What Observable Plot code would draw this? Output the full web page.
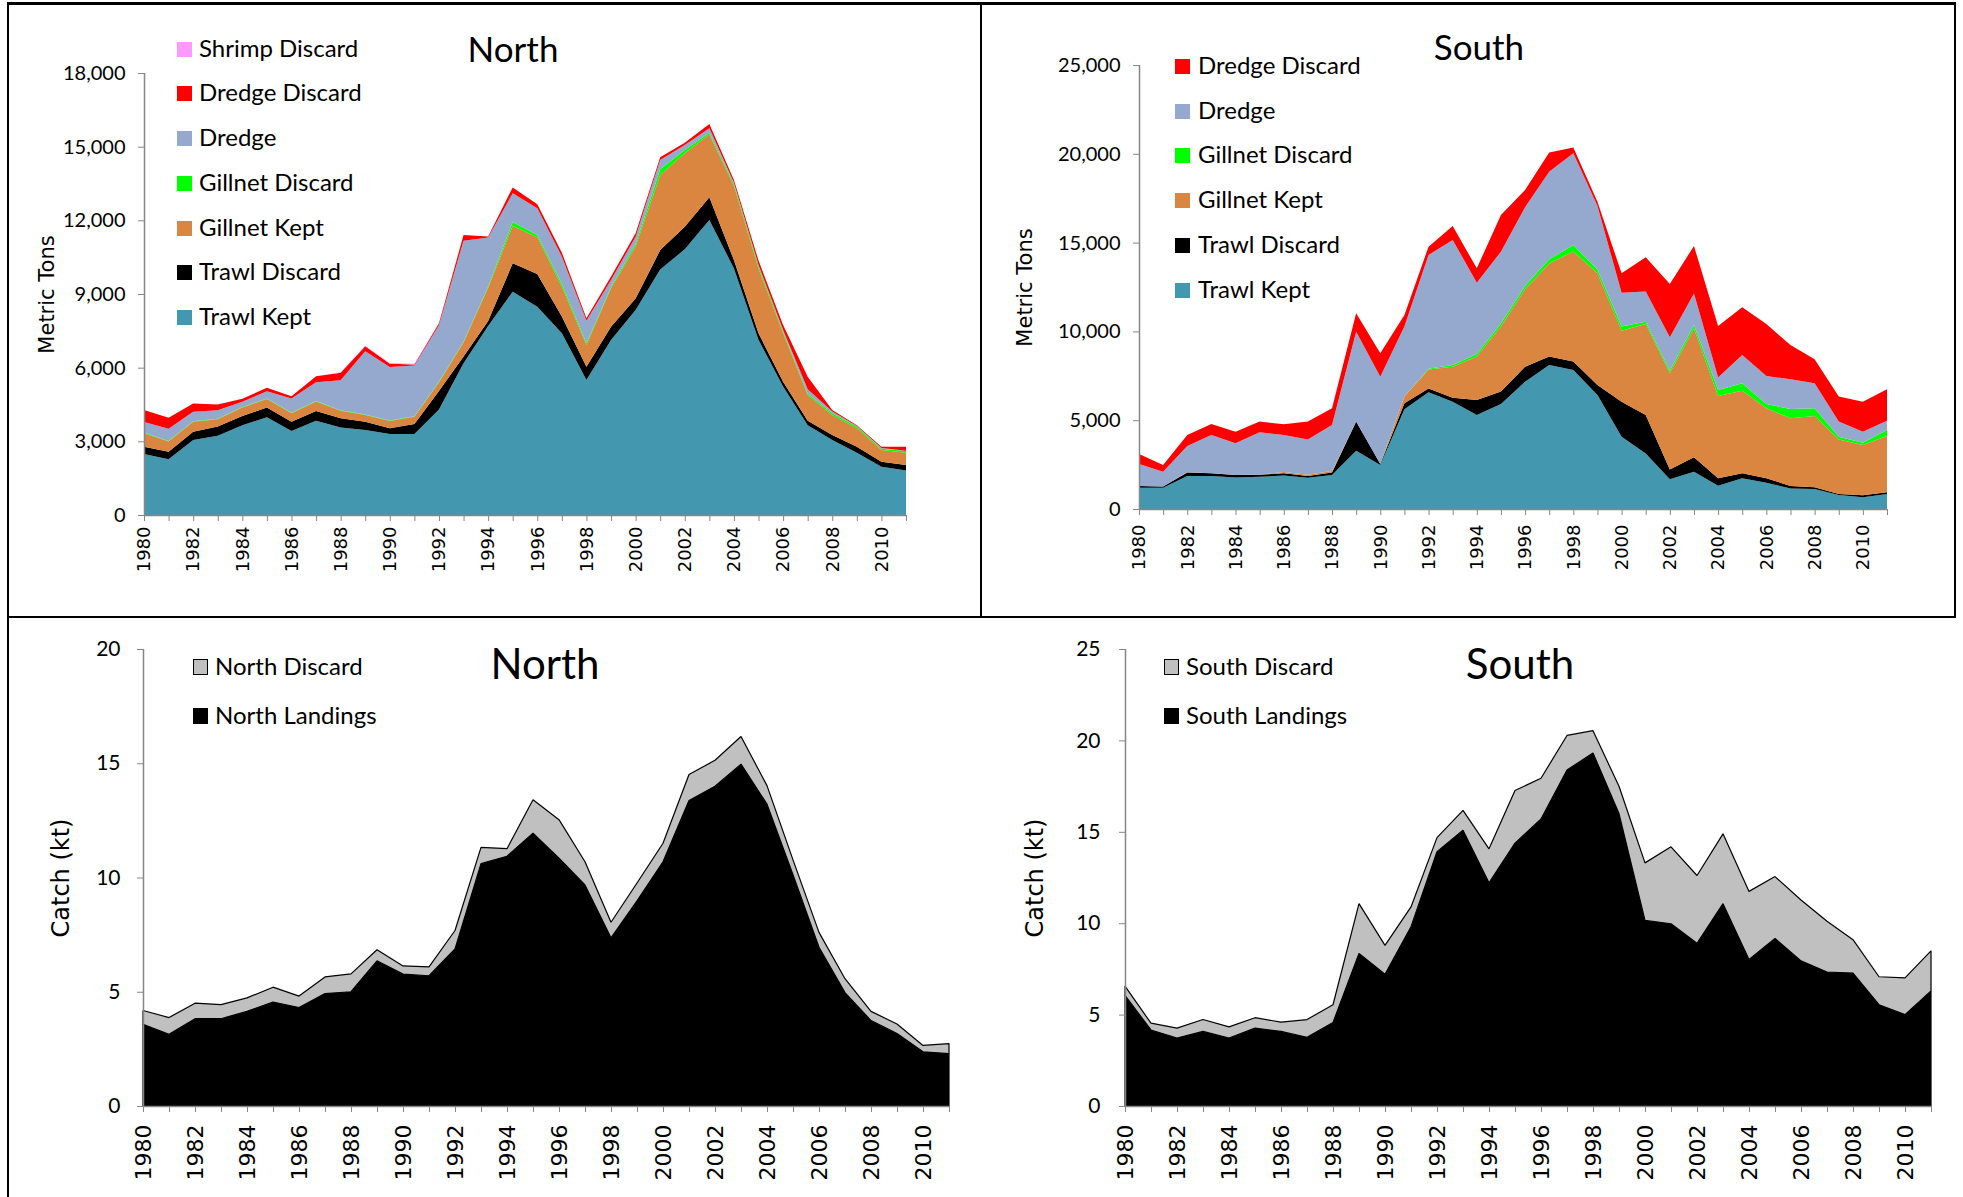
<!DOCTYPE html>
<html><head><meta charset="utf-8">
<script src="https://cdn.jsdelivr.net/npm/d3@7"></script>
<script src="https://cdn.jsdelivr.net/npm/@observablehq/plot@0.6"></script>
<style>
body{margin:0;background:#fff;}
#root{position:relative;width:1963px;height:1197px;overflow:hidden;background:#fff;font-family:Lato,sans-serif;}
.panel{position:absolute;}
.line{position:absolute;background:#000;z-index:5;}
.title{position:absolute;font-family:Lato,sans-serif;color:#000;transform:translateX(-50%);white-space:nowrap;line-height:1;}
.leg{position:absolute;font-family:Lato,sans-serif;white-space:nowrap;line-height:1;color:#000;}
.sw{position:absolute;box-sizing:border-box;}
</style></head><body><div id="root"></div>
<script>
// ---------- data ----------
const years = d3.range(1980, 2012);

// North, metric tons (top-left)
const northTrawlKept      = [2480,2270,3050,3230,3660,3980,3420,3840,3560,3460,3300,3300,4300,6180,7700,9090,8480,7400,5500,7130,8350,10000,10820,12010,10040,7130,5230,3660,3050,2540,1970,1810];
const northTrawlDiscard   = [300,310,340,370,370,400,380,400,380,340,230,410,750,270,200,1160,1330,680,540,540,470,790,920,930,340,270,200,180,210,240,200,230];
const northGillnetKept    = [550,410,410,300,350,340,340,380,310,270,300,290,350,570,1350,1520,1500,1220,880,1560,2110,3060,2990,2560,3020,2640,1970,1050,810,750,480,500];
const northGillnetDiscard = [30,20,20,20,20,20,20,20,20,20,20,20,30,40,60,160,90,110,70,50,110,230,130,70,80,100,70,60,70,70,50,70];
const northDredge         = [430,500,380,350,210,300,580,770,1220,2580,2180,2070,2300,4110,1990,1170,1090,1110,920,290,290,380,210,180,50,40,60,170,70,20,30,10];
const northDredgeDiscard  = [490,450,340,230,120,140,100,240,300,200,130,40,80,230,40,240,170,160,100,140,140,110,90,170,110,180,210,510,70,40,50,160];
const northShrimpDiscard  = [0,0,0,0,0,0,0,0,10,20,30,30,20,0,0,0,0,0,0,0,0,0,0,0,0,0,0,0,0,0,0,0];

// South, metric tons (top-right)
const southTrawlKept      = [1200,1200,1860,1860,1780,1820,1880,1760,1910,3280,2480,5610,6570,6040,5290,5910,7170,8110,7830,6420,4070,3130,1670,2100,1310,1730,1480,1160,1130,790,660,840];
const southTrawlDiscard   = [100,60,190,150,130,110,130,100,140,1640,50,340,220,230,850,700,840,470,470,560,1970,2160,560,810,420,280,250,140,90,50,110,100];
const southGillnetKept    = [0,0,20,0,0,0,70,70,90,0,0,380,1070,1740,2440,3660,4360,5250,6190,6290,4000,5130,5410,7260,4630,4650,3940,3810,4020,3080,2830,3170];
const southGillnetDiscard = [0,0,0,0,0,0,0,0,0,0,0,0,40,100,150,180,190,230,370,220,230,130,150,190,340,420,240,520,430,150,130,340];
const southDredge         = [1230,840,1480,2160,1790,2390,2090,1990,2590,5060,4920,3940,6400,7040,4010,4040,4430,4930,5170,3570,1910,1690,1880,1780,710,1590,1580,1670,1410,850,620,520];
const southDredgeDiscard  = [570,380,620,620,650,600,600,1000,940,1040,1320,650,470,780,810,2060,970,1090,330,240,1090,1930,3000,2670,2890,2690,2930,1930,1350,1410,1690,1770];

// Catch in kt (bottom panels)
const northLandings = [3.57,3.14,3.82,3.82,4.14,4.55,4.31,4.92,5.00,6.35,5.77,5.70,6.87,10.61,10.93,11.94,10.85,9.67,7.36,8.98,10.69,13.37,13.99,14.96,13.21,10.12,6.95,4.96,3.74,3.17,2.37,2.29];
const northDiscard  = [0.61,0.73,0.68,0.62,0.59,0.65,0.50,0.73,0.78,0.49,0.36,0.39,0.81,0.71,0.33,1.46,1.68,1.02,0.68,0.78,0.81,1.14,1.14,1.21,0.81,0.65,0.65,0.61,0.40,0.42,0.28,0.44];
const southLandings = [6.05,4.16,3.72,4.08,3.72,4.26,4.08,3.76,4.57,8.35,7.21,9.81,13.91,15.09,12.21,14.38,15.70,18.38,19.31,16.00,10.15,9.97,8.90,11.07,8.02,9.16,7.94,7.33,7.27,5.54,5.00,6.30];
const southDiscard  = [0.51,0.37,0.54,0.65,0.61,0.57,0.51,0.97,0.97,2.72,1.58,1.08,0.77,1.08,1.86,2.88,2.23,1.89,1.22,1.49,3.15,4.21,3.71,3.82,3.72,3.39,3.33,2.78,1.83,1.53,2.01,2.19];

// series names (bottom of stack first) and colours
const northNames = ["Trawl Kept","Trawl Discard","Gillnet Kept","Gillnet Discard","Dredge","Dredge Discard","Shrimp Discard"];
const northColors = ["#4398b0","#000000","#da8540","#00ff00","#95a9cf","#ff0000","#ff99ff"];
const southNames = ["Trawl Kept","Trawl Discard","Gillnet Kept","Gillnet Discard","Dredge","Dredge Discard"];
const southColors = ["#4398b0","#000000","#da8540","#00ff00","#95a9cf","#ff0000"];
const catchColors = ["#000000","#c0c0c0"];

// ---------- helpers ----------
const root = document.getElementById("root");
function longData(names, arrays){
  const out = [];
  names.forEach((n,k)=>arrays[k].forEach((v,i)=>out.push({year:years[i], series:n, value:v})));
  return out;
}
function panel(o){
  const data = longData(o.names, o.arrays);
  const chart = Plot.plot({
    width:o.width, height:o.height,
    marginLeft:o.mL, marginRight:o.mR, marginTop:o.mT, marginBottom:o.mB,
    style:{background:"transparent", color:"#000", overflow:"visible"},
    x:{domain:[1980,2011]},
    y:{domain:[0,o.yMax]},
    color:{domain:o.names, range:o.colors},
    marks:[
      Plot.areaY(data, {x:"year", y:"value", fill:"series", order:o.names,
        stroke:o.stroke || "none", strokeWidth:1.2, strokeLinejoin:"miter", curve:"linear"}),
      Plot.ruleX([1980], {stroke:"#868686", strokeWidth:1.5}),
      Plot.ruleY([0], {stroke:"#868686", strokeWidth:1.5}),
      Plot.axisX({ticks:years, tickFormat:d=> d%2===0 ? String(d) : "", tickRotate:-90,
        tickSize:6, tickPadding:o.xPad, stroke:"#868686", fontSize:o.xFont,
        fontFamily:"DejaVu Sans", label:null}),
      Plot.axisY({ticks:d3.range(0,o.yMax+1,o.yStep), tickFormat:o.yFmt, tickSize:6,
        tickPadding:o.yPad, stroke:"#868686", fontSize:o.yFont, fontFamily:"Lato", label:null}),
      Plot.axisY({ticks:[], label:o.yLabel, labelAnchor:"center", labelArrow:false,
        labelOffset:o.labelOffset, fontSize:o.labelFont, fontFamily:"DejaVu Sans"})
    ]
  });
  const wrap = document.createElement("div");
  wrap.className = "panel";
  wrap.style.left = o.left+"px"; wrap.style.top = o.top+"px";
  wrap.appendChild(chart);
  root.appendChild(wrap);
}
function title(text, cx, baseline, size){
  const d = document.createElement("div");
  d.className = "title"; d.textContent = text;
  d.style.fontSize = size+"px";
  d.style.left = cx+"px";
  d.style.top = (baseline - size*0.887)+"px";
  root.appendChild(d);
}
function legend(items, swX, txtX, centers, size, swW, swH, bordered){
  items.forEach((it,i)=>{
    const s = document.createElement("div");
    s.className = "sw";
    s.style.left = swX+"px"; s.style.top = (centers[i]-swH/2)+"px";
    s.style.width = swW+"px"; s.style.height = swH+"px";
    s.style.background = it.color;
    if (bordered) s.style.border = "1px solid #000";
    root.appendChild(s);
    const t = document.createElement("div");
    t.className = "leg"; t.textContent = it.name;
    t.style.fontSize = size+"px";
    t.style.left = txtX+"px"; t.style.top = (centers[i] - size*0.53)+"px";
    root.appendChild(t);
  });
}
function line(l,t,w,h){
  const d = document.createElement("div");
  d.className = "line";
  Object.assign(d.style,{left:l+"px",top:t+"px",width:w+"px",height:h+"px"});
  root.appendChild(d);
}

// ---------- panels ----------
panel({left:0, top:0, width:960, height:610, mL:144, mR:54, mT:73, mB:95,
  yMax:18000, yStep:3000, yFmt:d3.format(","), names:northNames,
  arrays:[northTrawlKept,northTrawlDiscard,northGillnetKept,northGillnetDiscard,northDredge,northDredgeDiscard,northShrimpDiscard],
  colors:northColors, xFont:18, xPad:5, yFont:20, yPad:13, yLabel:"Metric Tons", labelOffset:105, labelFont:21});

panel({left:981, top:0, width:982, height:610, mL:158, mR:76, mT:65, mB:101,
  yMax:25000, yStep:5000, yFmt:d3.format(","), names:southNames,
  arrays:[southTrawlKept,southTrawlDiscard,southGillnetKept,southGillnetDiscard,southDredge,southDredgeDiscard],
  colors:southColors, xFont:18, xPad:9, yFont:20, yPad:13, yLabel:"Metric Tons", labelOffset:122, labelFont:21});

panel({left:0, top:620, width:981, height:577, mL:143, mR:32, mT:29, mB:91,
  yMax:20, yStep:5, yFmt:d=>String(d), names:["North Landings","North Discard"],
  arrays:[northLandings,northDiscard], colors:catchColors, stroke:"#000",
  xFont:22, xPad:12, yFont:21, yPad:17, yLabel:"Catch (kt)", labelOffset:92, labelFont:24});

panel({left:981, top:620, width:982, height:577, mL:144, mR:32, mT:29, mB:91,
  yMax:25, yStep:5, yFmt:d=>String(d), names:["South Landings","South Discard"],
  arrays:[southLandings,southDiscard], colors:catchColors, stroke:"#000",
  xFont:22, xPad:12, yFont:21, yPad:19, yLabel:"Catch (kt)", labelOffset:100, labelFont:24});

// ---------- titles ----------
title("North", 513, 62, 35);
title("South", 1479, 60, 35);
title("North", 545, 679, 42);
title("South", 1520, 679, 42);

// ---------- legends ----------
const nLeg = northNames.map((n,i)=>({name:n,color:northColors[i]})).reverse();
legend(nLeg, 177, 199, [49,93,138,183,228,272,317], 24, 15, 15, false);
const sLeg = southNames.map((n,i)=>({name:n,color:southColors[i]})).reverse();
legend(sLeg, 1175, 1198, [66,111,155,200,245,290], 24, 15, 15, false);
legend([{name:"North Discard",color:catchColors[1]},{name:"North Landings",color:catchColors[0]}], 193, 215, [667,716], 24, 15, 16, true);
legend([{name:"South Discard",color:catchColors[1]},{name:"South Landings",color:catchColors[0]}], 1164, 1186, [667,716], 24, 15, 16, true);

// ---------- frame ----------
line(7, 2, 1949, 3);
line(7, 2, 2, 1195);
line(980, 2, 2, 616);
line(1954, 2, 2, 616);
line(7, 616, 1949, 2);
</script></body></html>
